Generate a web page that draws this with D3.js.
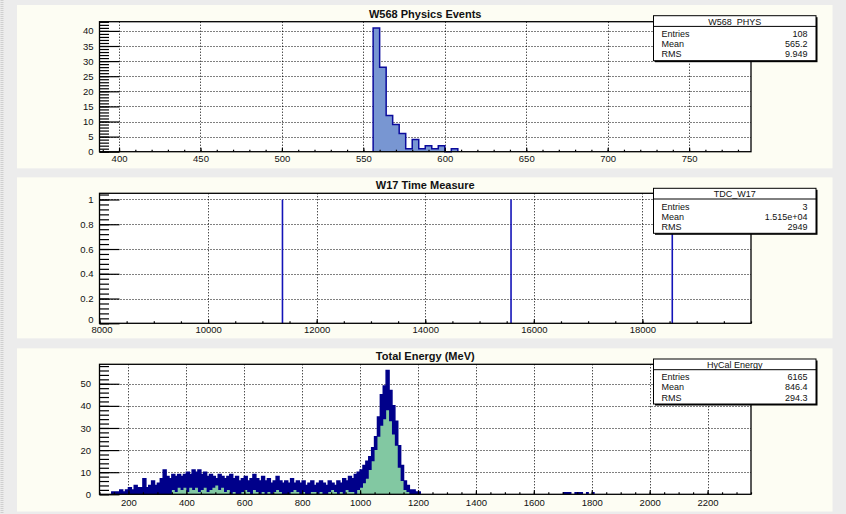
<!DOCTYPE html>
<html>
<head>
<meta charset="utf-8">
<script src="https://cdn.jsdelivr.net/npm/d3@7"></script>
<style>
  html, body { margin: 0; padding: 0; background: #ececec; }
  svg { display: block; font-family: "Liberation Sans", Arial, sans-serif; }
</style>
</head>
<body>
<svg id="chart" width="846" height="514"></svg>
<script>
// W568 physics events (4-unit bins, low edges)
const physEdges = [556, 560, 564, 568, 572, 576, 580, 584, 588, 592, 596, 600, 604];
const physCounts = [41, 28, 12, 9, 6, 1, 4, 1, 2, 1, 2, 0, 1];
const physBinWidth = 4;
const physTicks = [400, 450, 500, 550, 600, 650, 700, 750];
const physYTicks = [0, 5, 10, 15, 20, 25, 30, 35, 40];

// W17 time measure (TDC hits)
const tdcHits = [11370, 15580, 18550];
const tdcCounts = [1, 1, 1];
const tdcTicks = [8000, 10000, 12000, 14000, 16000, 18000];
const tdcYTicks = [0, 0.2, 0.4, 0.6, 0.8, 1];

// HyCal total energy, 10 MeV bins starting at 140 MeV
const energyStart = 140;
const energyBinWidth = 10;
const energyAll = [
  1, 1, 1, 2, 1, 2, 3, 2, 4, 3,
  3, 7, 3, 4, 6, 4, 5, 7, 11, 8,
  7, 9, 8, 9, 8, 9, 10, 9, 11, 10,
  11, 9, 10, 8, 9, 8, 7, 9, 8, 7,
  8, 9, 7, 8, 6, 7, 8, 6, 7, 9,
  7, 6, 8, 6, 7, 5, 6, 8, 6, 5,
  6, 5, 7, 5, 6, 5, 6, 4, 5, 6,
  4, 5, 6, 5, 4, 6, 5, 4, 6, 5,
  7, 6, 8, 7, 9, 10, 11, 13, 15, 17,
  21, 26, 35, 45, 49, 56, 47, 40, 33, 22,
  13, 6, 4, 2, 2, 1, 1
];
const energyCut = [
  0, 0, 0, 0, 0, 0, 0, 0, 0, 0,
  0, 0, 0, 0, 0, 0, 0, 0, 0, 0,
  0, 2, 1, 3, 2, 3, 1, 3, 2, 3,
  1, 2, 3, 1, 2, 3, 4, 2, 3, 1,
  2, 0, 1, 0, 0, 1, 2, 1, 0, 2,
  1, 0, 1, 0, 1, 0, 1, 2, 1, 0,
  0, 0, 1, 2, 1, 0, 1, 0, 0, 1,
  1, 0, 1, 0, 0, 1, 2, 1, 0, 1,
  0, 2, 1, 1, 0, 2, 3, 5, 7, 11,
  15, 20, 26, 31, 34, 38, 33, 27, 22, 12,
  6, 2, 1, 0, 0, 0, 0
];
const energyTailStart = 1700;
const energyTail = [1, 1, 1, 0, 1, 1, 1, 0, 1, 0, 1];
const energyTicks = [200, 400, 600, 800, 1000, 1200, 1400, 1600, 1800, 2000, 2200];
const energyYTicks = [0, 10, 20, 30, 40, 50];

// stats boxes
const statsTitles = ["W568_PHYS", "TDC_W17", "HyCal Energy"];
const statsEntries = ["108", "3", "6165"];
const statsMeans = ["565.2", "1.515e+04", "846.4"];
const statsRms = ["9.949", "2949", "294.3"];

const svg = d3.select("#chart");
const frameLeft = 99.5, frameRight = 751, frameH = 130;

// left window border
svg.append("line")
  .attr("x1", 2).attr("x2", 2).attr("y1", 0).attr("y2", 514)
  .attr("stroke", "#cfcfcf").attr("stroke-width", 3)
  .attr("stroke-dasharray", "1,1");

function minorTicks(domain, step) {
  const out = [];
  const first = Math.ceil(domain[0] / step - 1e-9) * step;
  for (let v = first; v <= domain[1] + 1e-9; v += step) out.push(+v.toFixed(6));
  return out;
}

function drawPanel(p) {
  // pad
  svg.append("rect")
    .attr("x", 17).attr("y", p.padTop)
    .attr("width", 815.5).attr("height", p.padH)
    .attr("fill", "#fdfdf3");

  const x = d3.scaleLinear().domain(p.xDomain).range([frameLeft, frameRight]);
  const y = d3.scaleLinear().domain(p.yDomain).range([p.frameTop + frameH, p.frameTop]);

  const g = svg.append("g");
  g.append("rect")
    .attr("x", frameLeft).attr("y", p.frameTop)
    .attr("width", frameRight - frameLeft).attr("height", frameH)
    .attr("fill", "#fff");

  // dotted grid
  const grid = g.append("g").attr("stroke", "#000").attr("stroke-width", 1)
    .attr("stroke-dasharray", "1,2");
  grid.selectAll(".gx").data(p.xTicks.filter(v => v > p.xDomain[0])).join("line")
    .attr("x1", d => Math.round(x(d)) + 0.5).attr("x2", d => Math.round(x(d)) + 0.5)
    .attr("y1", p.frameTop).attr("y2", p.frameTop + frameH);
  grid.selectAll(".gy").data(p.yTicks.filter(v => v > 0)).join("line")
    .attr("x1", frameLeft).attr("x2", frameRight)
    .attr("y1", d => Math.round(y(d)) + 0.5).attr("y2", d => Math.round(y(d)) + 0.5);

  const layers = g.append("g");

  // minor ticks
  g.append("g")
    .attr("transform", `translate(0,${p.frameTop + frameH})`)
    .call(d3.axisBottom(x).tickValues(minorTicks(p.xDomain, p.xMinor)).tickSize(-2).tickFormat(""))
    .call(s => s.select(".domain").remove());
  g.append("g")
    .attr("transform", `translate(${frameLeft},0)`)
    .call(d3.axisLeft(y).tickValues(minorTicks(p.yDomain, p.yMinor)).tickSize(-9.5).tickFormat(""))
    .call(s => s.select(".domain").remove());

  // major ticks + labels
  const xAxis = g.append("g")
    .attr("transform", `translate(0,${p.frameTop + frameH})`)
    .call(d3.axisBottom(x).tickValues(p.xTicks).tickSize(-4).tickPadding(p.xPad).tickFormat(d3.format("d")));
  xAxis.select(".domain").remove();
  xAxis.selectAll("text").attr("font-size", 9.5).attr("fill", "#111")
    .attr("dx", d => d === p.xDomain[0] ? 2 : 0);

  const yAxis = g.append("g")
    .attr("transform", `translate(${frameLeft},0)`)
    .call(d3.axisLeft(y).tickValues(p.yTicks).tickSize(-20).tickPadding(p.yPad).tickFormat(d => String(d)));
  yAxis.select(".domain").remove();
  yAxis.selectAll("text").attr("font-size", 9.5).attr("fill", "#111")
    .attr("y", d => d === 0 ? -p.zeroLift : 0);
  g.selectAll(".tick line").attr("stroke", "#000").attr("stroke-width", 1.2);

  // frame
  g.append("rect")
    .attr("x", frameLeft).attr("y", p.frameTop)
    .attr("width", frameRight - frameLeft).attr("height", frameH)
    .attr("fill", "none").attr("stroke", "#000").attr("stroke-width", 1.3);

  // title
  svg.append("text")
    .attr("x", (frameLeft + frameRight) / 2).attr("y", p.titleY)
    .attr("text-anchor", "middle").attr("font-size", 11).attr("font-weight", "bold")
    .attr("fill", "#111")
    .text(p.title);

  // stats box
  const sx = 653.5, sw = 162.5, sh = 45, st = p.statsTop, i = p.index;
  svg.append("rect").attr("x", sx + 1.5).attr("y", st + 1.5).attr("width", sw).attr("height", sh).attr("fill", "#000");
  svg.append("rect").attr("x", sx).attr("y", st).attr("width", sw).attr("height", sh)
    .attr("fill", "#fff").attr("stroke", "#000").attr("stroke-width", 1);
  svg.append("line").attr("x1", sx).attr("x2", sx + sw).attr("y1", st + 10.7).attr("y2", st + 10.7)
    .attr("stroke", "#000").attr("stroke-width", 1);
  svg.append("text").attr("x", sx + sw / 2).attr("y", st + 9)
    .attr("text-anchor", "middle").attr("font-size", 9).attr("fill", "#111").text(statsTitles[i]);
  const rows = [["Entries", statsEntries[i]], ["Mean", statsMeans[i]], ["RMS", statsRms[i]]];
  rows.forEach((r, k) => {
    const yy = st + 21.2 + k * 10.2;
    svg.append("text").attr("x", sx + 8).attr("y", yy).attr("font-size", 9).attr("fill", "#111").text(r[0]);
    svg.append("text").attr("x", sx + sw - 8.5).attr("y", yy).attr("text-anchor", "end")
      .attr("font-size", 9).attr("fill", "#111").text(r[1]);
  });

  return { layers, x, y };
}

function stepArea(start, width, values) {
  const pts = [];
  values.forEach((v, i) => {
    pts.push([start + i * width, v]);
    pts.push([start + (i + 1) * width, v]);
  });
  return pts;
}

// ---------- top: W568 physics events ----------
const physPanel = drawPanel({
  index: 0, title: "W568 Physics Events",
  padTop: 5, padH: 163.3, frameTop: 21.7, titleY: 18, statsTop: 15.7,
  xDomain: [388, 788], yDomain: [0, 43.05],
  xTicks: physTicks, yTicks: physYTicks, xMinor: 10, yMinor: 1, xPad: 3.5, yPad: 6, zeroLift: 0
});
{
  const pts = [];
  pts.push([physEdges[0], 0]);
  physEdges.forEach((e, i) => {
    pts.push([e, physCounts[i]]);
    pts.push([e + physBinWidth, physCounts[i]]);
  });
  pts.push([physEdges[physEdges.length - 1] + physBinWidth, 0]);
  physPanel.layers.append("path")
    .attr("d", d3.area().x(d => physPanel.x(d[0])).y0(physPanel.y(0)).y1(d => physPanel.y(d[1]))(pts))
    .attr("fill", "#7896d2");
  physPanel.layers.append("path")
    .attr("d", d3.line().x(d => physPanel.x(d[0])).y(d => physPanel.y(d[1]))(pts))
    .attr("fill", "none").attr("stroke", "#0c0c9c").attr("stroke-width", 1.5);
}

// ---------- middle: W17 time measure ----------
const tdcPanel = drawPanel({
  index: 1, title: "W17 Time Measure",
  padTop: 177.3, padH: 161, frameTop: 193.3, titleY: 189, statsTop: 188.3,
  xDomain: [8000, 20000], yDomain: [0, 1.05],
  xTicks: tdcTicks, yTicks: tdcYTicks, xMinor: 500, yMinor: 0.04, xPad: 2.5, yPad: 6, zeroLift: 3.5
});
tdcPanel.layers.selectAll("line.hit").data(tdcHits).join("line")
  .attr("class", "hit")
  .attr("x1", d => tdcPanel.x(d)).attr("x2", d => tdcPanel.x(d))
  .attr("y1", tdcPanel.y(0)).attr("y2", (d, i) => tdcPanel.y(tdcCounts[i]))
  .attr("stroke", "#1414b8").attr("stroke-width", 1.6);

// ---------- bottom: total energy ----------
const energyPanel = drawPanel({
  index: 2, title: "Total Energy (MeV)",
  padTop: 348.3, padH: 163.2, frameTop: 364.3, titleY: 359.7, statsTop: 359,
  xDomain: [100, 2350], yDomain: [0, 58.8],
  xTicks: energyTicks, yTicks: energyYTicks, xMinor: 50, yMinor: 2, xPad: 5, yPad: 8.5, zeroLift: 0
});
{
  const ex = energyPanel.x, ey = energyPanel.y;
  const area = d3.area().x(d => ex(d[0])).y0(ey(0)).y1(d => ey(d[1]));
  const line = d3.line().x(d => ex(d[0])).y(d => ey(d[1]));
  const allPts = stepArea(energyStart, energyBinWidth, energyAll);
  const tailPts = stepArea(energyTailStart, energyBinWidth, energyTail);
  energyPanel.layers.append("path").attr("d", area(allPts)).attr("fill", "#00008a");
  energyPanel.layers.append("path").attr("d", line(allPts))
    .attr("fill", "none").attr("stroke", "#00008a").attr("stroke-width", 1.5);
  energyPanel.layers.append("path").attr("d", area(tailPts)).attr("fill", "#00008a");
  energyPanel.layers.append("path")
    .attr("d", area(stepArea(energyStart, energyBinWidth, energyCut)))
    .attr("fill", "#82c8a2");
}
</script>
</body>
</html>
